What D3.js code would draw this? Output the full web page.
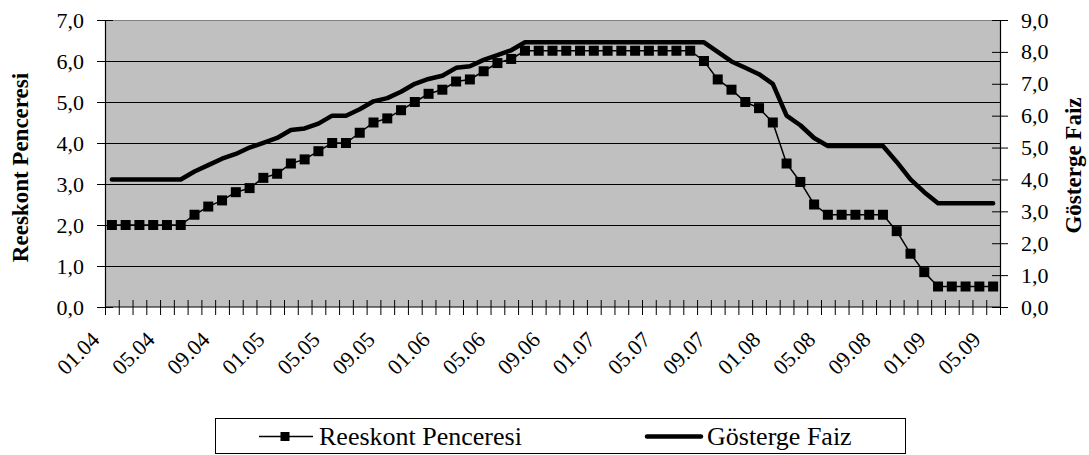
<!DOCTYPE html>
<html>
<head>
<meta charset="utf-8">
<script src="https://cdn.jsdelivr.net/npm/d3@7"></script>
<style>
  body { margin: 0; background: #fff; }
  svg text { font-family: "Liberation Serif", "Times New Roman", serif; fill: #000; }
</style>
</head>
<body>
<div id="chart"></div>
<script>
// months (mm.yy)
let months = ["01.04","02.04","03.04","04.04","05.04","06.04","07.04","08.04","09.04","10.04","11.04","12.04",
  "01.05","02.05","03.05","04.05","05.05","06.05","07.05","08.05","09.05","10.05","11.05","12.05",
  "01.06","02.06","03.06","04.06","05.06","06.06","07.06","08.06","09.06","10.06","11.06","12.06",
  "01.07","02.07","03.07","04.07","05.07","06.07","07.07","08.07","09.07","10.07","11.07","12.07",
  "01.08","02.08","03.08","04.08","05.08","06.08","07.08","08.08","09.08","10.08","11.08","12.08",
  "01.09","02.09","03.09","04.09","05.09"];

// left axis series
let reeskont = [2.0,2.0,2.0,2.0,2.0,2.0,2.25,2.45,2.6,2.8,2.9,3.15,
  3.25,3.5,3.6,3.8,4.0,4.0,4.25,4.5,4.6,4.8,5.0,5.2,
  5.3,5.5,5.55,5.75,5.95,6.05,6.25,6.25,6.25,6.25,6.25,6.25,
  6.25,6.25,6.25,6.25,6.25,6.25,6.25,6.0,5.55,5.3,5.0,4.85,
  4.5,3.5,3.05,2.5,2.25,2.25,2.25,2.25,2.25,1.85,1.3,0.85,
  0.5,0.5,0.5,0.5,0.5];

// right axis series
let gosterge = [4.0,4.0,4.0,4.0,4.0,4.0,4.25,4.45,4.65,4.8,5.0,5.15,
  5.3,5.55,5.6,5.75,6.0,6.0,6.2,6.45,6.55,6.75,7.0,7.15,
  7.25,7.5,7.55,7.75,7.9,8.05,8.3,8.3,8.3,8.3,8.3,8.3,
  8.3,8.3,8.3,8.3,8.3,8.3,8.3,8.3,8.0,7.7,7.5,7.3,
  7.0,6.0,5.7,5.3,5.05,5.05,5.05,5.05,5.05,4.55,4.0,3.6,
  3.25,3.25,3.25,3.25,3.25];

let leftTicks = [0,1,2,3,4,5,6,7];
let rightTicks = [0,1,2,3,4,5,6,7,8,9];
let labelEvery = 4;

let W = 1089, H = 455;
let plot = { left: 105, right: 1000, top: 20, bottom: 307 };
let comma = d => d.toFixed(1).replace(".", ",");

let svg = d3.select("#chart").append("svg")
    .attr("width", W).attr("height", H);

let x = d3.scaleBand().domain(d3.range(months.length)).range([plot.left, plot.right]);
let xEdge = d3.scaleLinear().domain([0, months.length]).range([plot.left, plot.right]);
let yL = d3.scaleLinear().domain([0, 7]).range([plot.bottom, plot.top]);
let yR = d3.scaleLinear().domain([0, 9]).range([plot.bottom, plot.top]);
let cx = i => x(i) + x.bandwidth() / 2;

// plot background
svg.append("rect")
    .attr("x", plot.left).attr("y", plot.top)
    .attr("width", plot.right - plot.left).attr("height", plot.bottom - plot.top)
    .attr("fill", "#c0c0c0");

// gridlines
svg.append("g").selectAll("line")
    .data(leftTicks.filter(d => d > 0 && d < 7))
    .enter().append("line")
    .attr("x1", plot.left).attr("x2", plot.right)
    .attr("y1", d => Math.round(yL(d)) + 0.5).attr("y2", d => Math.round(yL(d)) + 0.5)
    .attr("stroke", "#000").attr("stroke-width", 1);

svg.append("line")
    .attr("x1", plot.left).attr("x2", plot.right)
    .attr("y1", plot.top + 0.5).attr("y2", plot.top + 0.5)
    .attr("stroke", "#808080");

// left axis
let gL = svg.append("g")
    .attr("transform", "translate(" + plot.left + ",0)")
    .call(d3.axisLeft(yL).tickValues(leftTicks).tickFormat(comma).tickSize(8).tickPadding(13));
gL.selectAll(".tick line").attr("x1", 8).attr("x2", -8);

// right axis
let gR = svg.append("g")
    .attr("transform", "translate(" + plot.right + ",0)")
    .call(d3.axisRight(yR).tickValues(rightTicks).tickFormat(comma).tickSize(8).tickPadding(13));
gR.selectAll(".tick line").attr("x1", -8).attr("x2", 8);

// bottom axis: ticks on category edges
let gX = svg.append("g")
    .attr("transform", "translate(0," + plot.bottom + ")")
    .call(d3.axisBottom(xEdge).tickValues(d3.range(months.length + 1)).tickFormat("").tickSize(8).tickSizeOuter(0));
gX.selectAll(".tick line").attr("y1", -7).attr("y2", 8);

[gL, gR, gX].forEach(g => {
    g.select(".domain").attr("stroke", "#000").attr("stroke-width", 1.2);
    g.selectAll(".tick line").attr("stroke", "#000");
    g.selectAll("text").style("font-family", "Liberation Serif").style("font-size", "22px").attr("fill", "#000");
});
gX.select(".domain").attr("d", "M" + plot.left + ",0H" + plot.right);

// x labels, rotated
svg.append("g").selectAll("text")
    .data(d3.range(0, months.length, labelEvery))
    .enter().append("text")
    .attr("transform", i => "translate(" + (cx(i) - 11) + "," + 341 + ") rotate(-45)")
    .attr("text-anchor", "end")
    .style("font-size", "22px")
    .text(i => months[i]);

// Gösterge Faiz line (right axis)
svg.append("path")
    .datum(gosterge)
    .attr("fill", "none")
    .attr("stroke", "#000")
    .attr("stroke-width", 4.5)
    .attr("stroke-linejoin", "round")
    .attr("stroke-linecap", "round")
    .attr("d", d3.line().x((d, i) => cx(i)).y(d => yR(d)));

// Reeskont line (left axis) with square markers
svg.append("path")
    .datum(reeskont)
    .attr("fill", "none")
    .attr("stroke", "#000")
    .attr("stroke-width", 1.5)
    .attr("d", d3.line().x((d, i) => cx(i)).y(d => yL(d)));

let ms = 10;
svg.append("g").selectAll("rect")
    .data(reeskont)
    .enter().append("rect")
    .attr("x", (d, i) => cx(i) - ms / 2)
    .attr("y", d => yL(d) - ms / 2)
    .attr("width", ms).attr("height", ms)
    .attr("fill", "#000");

// axis titles
svg.append("text")
    .attr("transform", "translate(28," + ((plot.top + plot.bottom) / 2 + 4) + ") rotate(-90)")
    .attr("text-anchor", "middle")
    .style("font-size", "23px").style("font-weight", "bold")
    .text("Reeskont Penceresi");

svg.append("text")
    .attr("transform", "translate(1081," + ((plot.top + plot.bottom) / 2 + 2) + ") rotate(-90)")
    .attr("text-anchor", "middle")
    .style("font-size", "23px").style("font-weight", "bold")
    .text("Gösterge Faiz");

// legend
let legend = svg.append("g");
legend.append("rect")
    .attr("x", 215.5).attr("y", 418.5)
    .attr("width", 690).attr("height", 35)
    .attr("fill", "#fff").attr("stroke", "#000").attr("stroke-width", 1);

let ly = 436.5;
legend.append("line")
    .attr("x1", 259).attr("x2", 313).attr("y1", ly).attr("y2", ly)
    .attr("stroke", "#000").attr("stroke-width", 1.5);
legend.append("rect")
    .attr("x", 285 - 4.5).attr("y", ly - 4.5).attr("width", 9).attr("height", 9)
    .attr("fill", "#000");
legend.append("text")
    .attr("x", 319).attr("y", ly + 8.5)
    .style("font-size", "26px")
    .text("Reeskont Penceresi");

legend.append("line")
    .attr("x1", 647).attr("x2", 701).attr("y1", ly).attr("y2", ly)
    .attr("stroke", "#000").attr("stroke-width", 4.5).attr("stroke-linecap", "round");
legend.append("text")
    .attr("x", 707).attr("y", ly + 8.5)
    .style("font-size", "26px")
    .text("Gösterge Faiz");
</script>
</body>
</html>
